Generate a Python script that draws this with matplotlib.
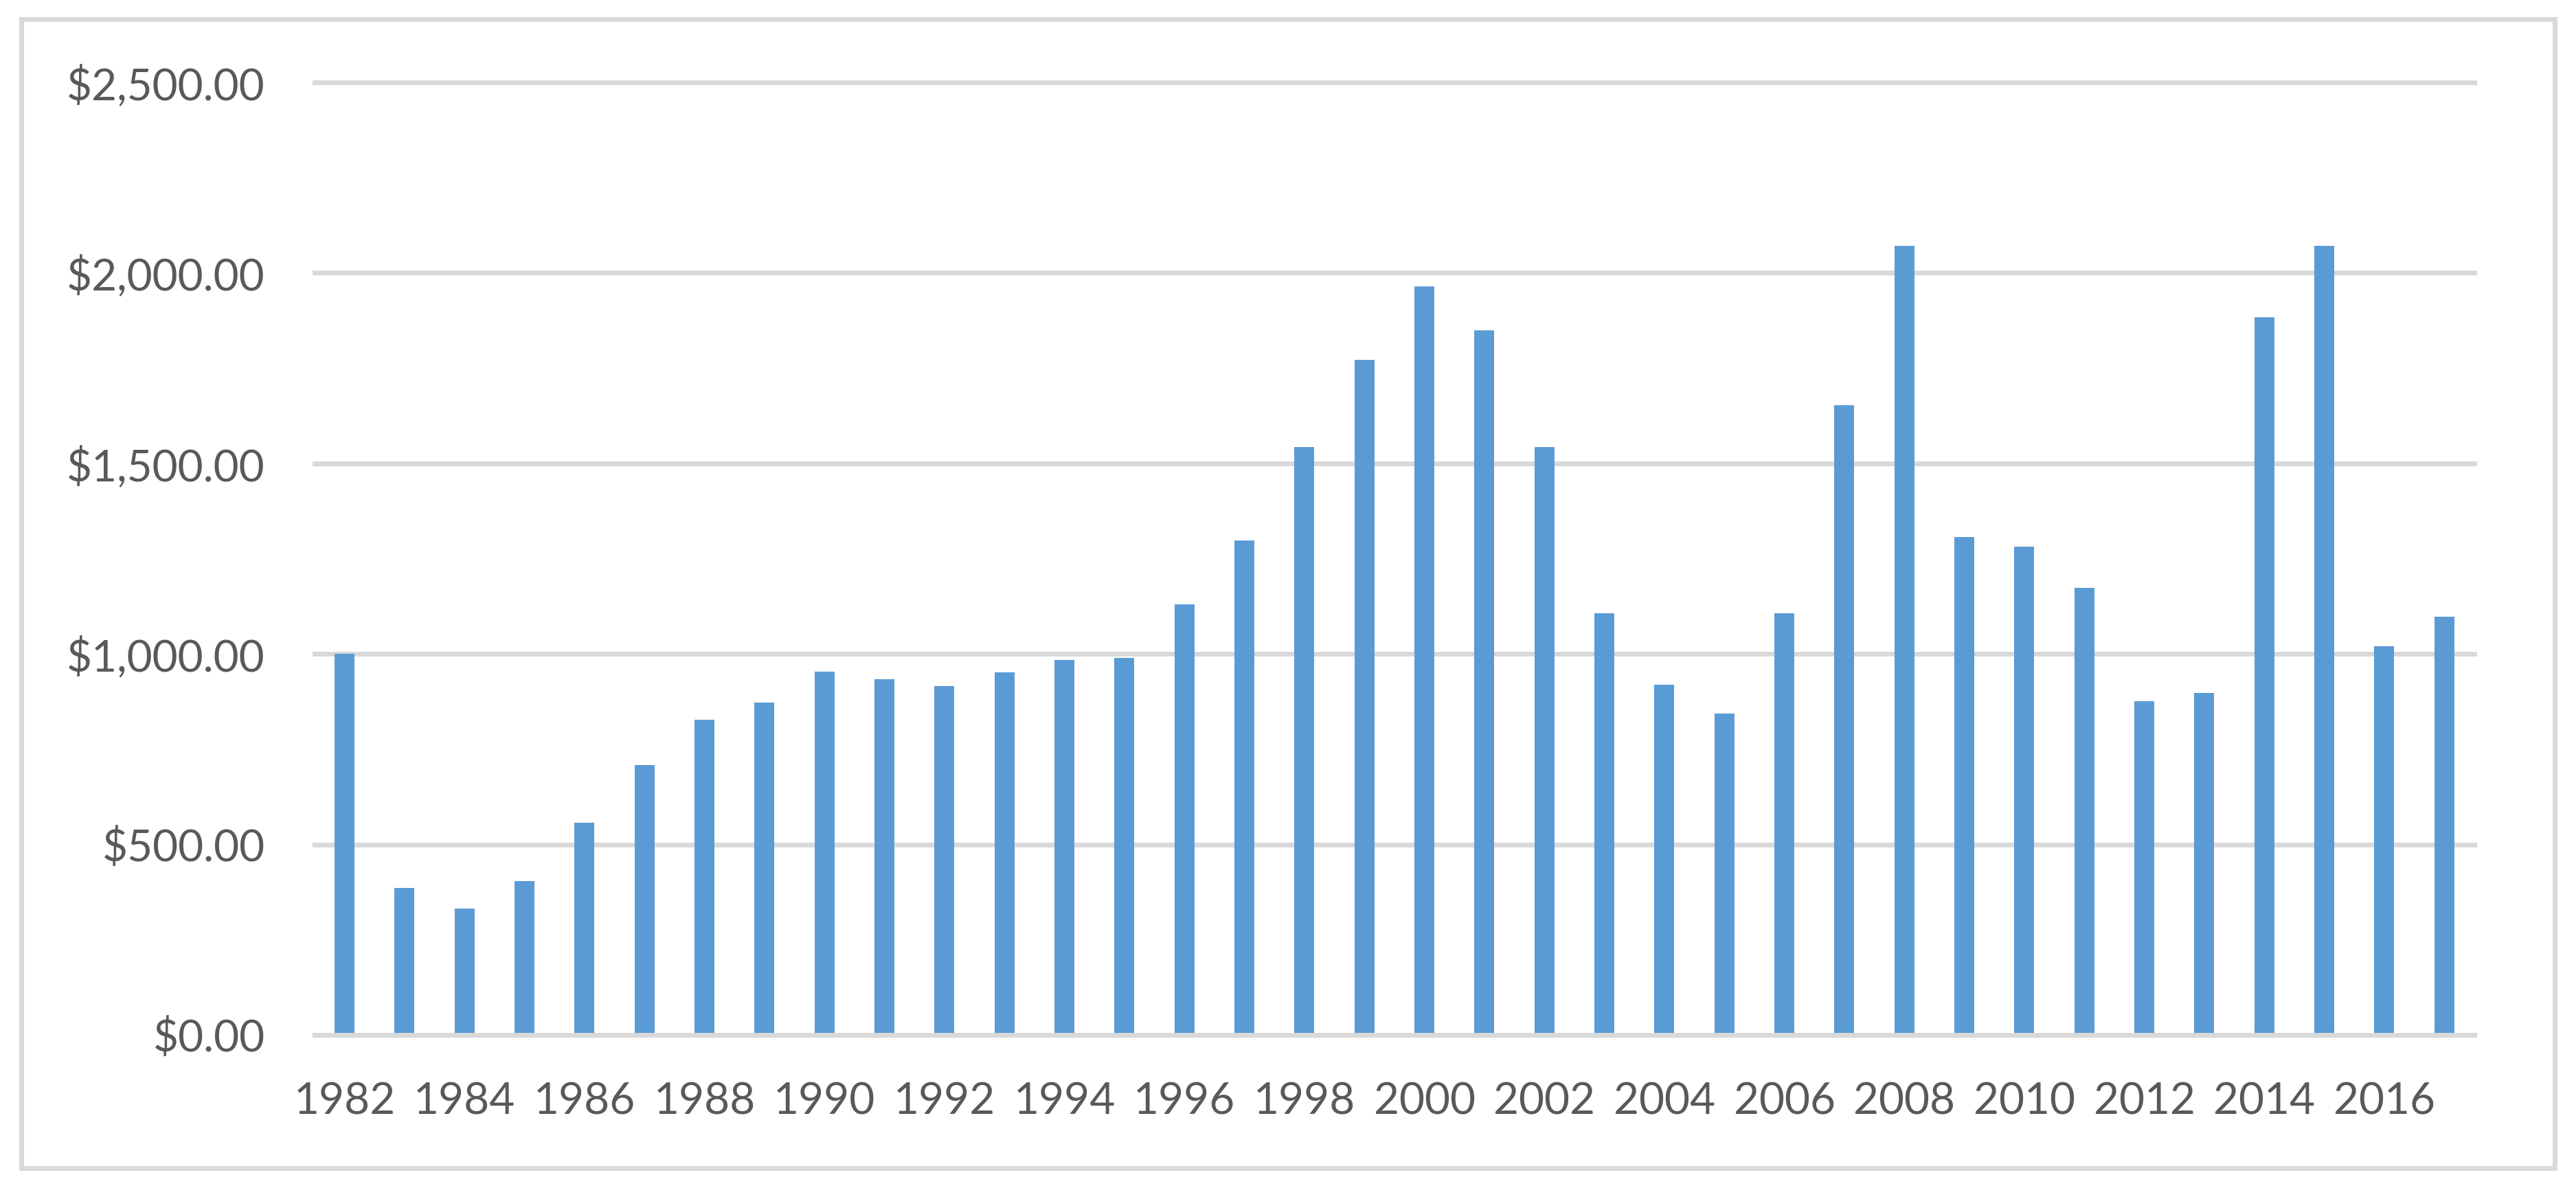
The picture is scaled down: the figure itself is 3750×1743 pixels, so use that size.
import matplotlib
matplotlib.use("Agg")
import matplotlib.pyplot as plt
import matplotlib.ticker as tic
from matplotlib.patches import Rectangle

# --- данные --- #
years = list(range(1982, 2018))
values = [1000, 386, 332, 404, 557, 709, 828, 873, 954, 933,
          916, 951, 984, 990, 1130, 1297, 1543, 1771, 1964, 1850,
          1543, 1106, 919, 844, 1106, 1653, 2070, 1306, 1282, 1174,
          876, 898, 1884, 2071, 1021, 1097]
y_ticks = [0, 500, 1000, 1500, 2000, 2500]

bar_color = '#5B9BD5'
grid_color = '#D9D9D9'
text_color = '#595959'

plt.rcParams['font.family'] = ['Lato', 'DejaVu Sans']

fig = plt.figure(figsize=(37.5, 17.43), dpi=100)
ax = fig.add_axes([0.1221, 0.1354, 0.9605 - 0.1221, 0.9312 - 0.1354])

x = list(range(len(years)))
ax.bar(x, values, width=0.33, color=bar_color, zorder=3)

ax.set_xlim(-0.5, len(years) - 0.5)
ax.set_ylim(0, 2500)
ax.yaxis.set_major_locator(tic.FixedLocator(y_ticks))
ax.yaxis.set_major_formatter(tic.FuncFormatter(lambda v, p: '${:,.2f}'.format(v)))
ax.set_xticks(x[::2])
ax.set_xticklabels([str(y) for y in years[::2]])

ax.tick_params(axis='both', length=0, labelsize=46, labelcolor=text_color)
ax.tick_params(axis='y', pad=52)
ax.tick_params(axis='x', pad=49)

ax.grid(axis='y', color=grid_color, linewidth=5, zorder=0)
ax.set_axisbelow(True)
for l in ax.get_ygridlines():
    l.set_clip_on(False)
for s in ['top', 'left', 'right']:
    ax.spines[s].set_visible(False)
ax.spines['bottom'].set_color(grid_color)
ax.spines['bottom'].set_linewidth(5)
ax.spines['bottom'].set_zorder(4)

# рамка вокруг всей диаграммы
border = Rectangle((31 / 3750, 1 - 1701 / 1743), (3719 - 31) / 3750, (1701 - 28) / 1743,
                   transform=fig.transFigure, fill=False, edgecolor=grid_color, linewidth=5)
fig.patches.append(border)

fig.savefig('out.png', dpi=100, facecolor='white')
